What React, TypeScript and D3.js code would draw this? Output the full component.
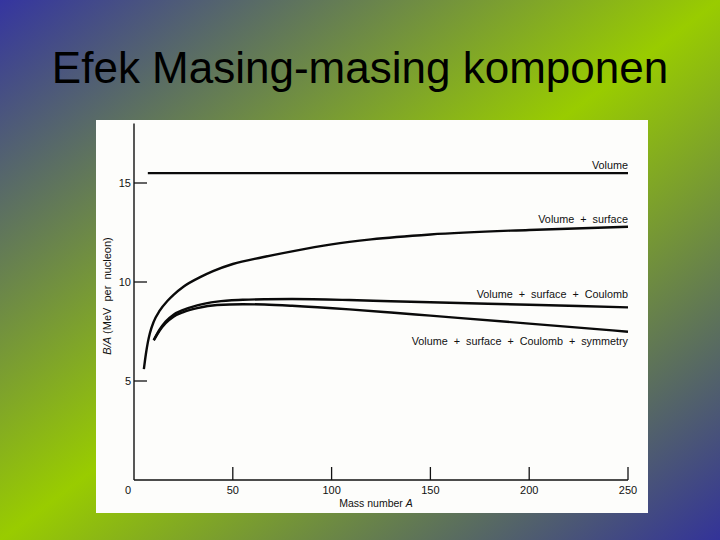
import React from "react";
import * as d3 from "d3";

const titleText = "Efek Masing-masing komponen";

const xTicks = [0, 50, 100, 150, 200, 250];
const yTicks = [5, 10, 15];

const volumeA = [7, 250];
const volumeB = [15.5, 15.5];

const surfaceA = [5, 6, 7, 8, 10, 13, 17, 20, 25, 34, 40, 50, 65, 80, 100, 120, 150, 200, 250];
const surfaceB = [5.6, 6.35, 6.95, 7.4, 8.0, 8.55, 9.05, 9.35, 9.76, 10.27, 10.55, 10.91, 11.25, 11.55, 11.9, 12.15, 12.4, 12.63, 12.79];

const coulombA = [10, 13, 16, 20, 25, 32, 42, 55, 66, 80, 109, 130, 150, 200, 250];
const coulombB = [7.07, 7.6, 8.0, 8.35, 8.59, 8.82, 9.01, 9.1, 9.13, 9.14, 9.09, 9.03, 8.98, 8.85, 8.72];

const symmetryA = [10, 13, 16, 20, 25, 32, 42, 55, 66, 80, 109, 130, 150, 200, 250];
const symmetryB = [7.05, 7.55, 7.92, 8.25, 8.48, 8.68, 8.84, 8.88, 8.86, 8.8, 8.62, 8.46, 8.3, 7.9, 7.49];

const seriesLabels = [
  "Volume",
  "Volume  +  surface",
  "Volume  +  surface  +  Coulomb",
  "Volume  +  surface  +  Coulomb  +  symmetry",
];
const labelDy = [-4, -4, -9, 13];

export default function App() {
  const x = d3.scaleLinear().domain([0, 250]).range([134, 628]);
  const y = d3.scaleLinear().domain([0, 18]).range([480, 123.6]);

  const line = d3
    .line<[number, number]>()
    .x((d) => x(d[0]))
    .y((d) => y(d[1]))
    .curve(d3.curveMonotoneX);

  const series = [
    [volumeA, volumeB],
    [surfaceA, surfaceB],
    [coulombA, coulombB],
    [symmetryA, symmetryB],
  ].map(([a, b]) => a.map((v, i) => [v, b[i]] as [number, number]));

  const font = "'Liberation Sans', Arial, Helvetica, sans-serif";

  return (
    <svg
      width={720}
      height={540}
      style={{ position: "fixed", left: 0, top: 0 }}
      fontFamily={font}
    >
      <defs>
        <linearGradient id="bg" x1="0" y1="0" x2="1" y2="1">
          <stop offset="0" stopColor="#3535a0" />
          <stop offset="0.5" stopColor="#99cc00" />
          <stop offset="1" stopColor="#333399" />
        </linearGradient>
      </defs>
      <rect x={0} y={0} width={720} height={540} fill="url(#bg)" />
      <text x={360} y={83} textAnchor="middle" fontSize={44} fill="#000">
        {titleText}
      </text>
      <rect x={96} y={120} width={552} height={393} fill="#fdfdfb" />

      {/* axes */}
      <line x1={x(0)} x2={x(0)} y1={y(18)} y2={y(0)} stroke="#111" strokeWidth={1.4} />
      <line x1={x(0)} x2={x(250)} y1={y(0)} y2={y(0)} stroke="#111" strokeWidth={1.4} />
      {yTicks.map((t) => (
        <g key={"y" + t}>
          <line x1={x(0)} x2={x(0) + 13} y1={y(t)} y2={y(t)} stroke="#111" strokeWidth={1.3} />
          <text x={x(0) - 3} y={y(t) + 4} textAnchor="end" fontSize={11} fill="#111">
            {t}
          </text>
        </g>
      ))}
      {xTicks.map((t) => (
        <g key={"x" + t}>
          {t > 0 && (
            <line x1={x(t)} x2={x(t)} y1={y(0)} y2={y(0) - 13} stroke="#111" strokeWidth={1.3} />
          )}
          <text
            x={t === 0 ? x(t) - 6 : x(t)}
            y={y(0) + 13.5}
            textAnchor="middle"
            fontSize={11}
            fill="#111"
          >
            {t}
          </text>
        </g>
      ))}
      <text x={376} y={507} textAnchor="middle" fontSize={10.5} fill="#111">
        Mass number <tspan fontStyle="italic">A</tspan>
      </text>
      <text
        transform={`translate(111, 296) rotate(-90)`}
        textAnchor="middle"
        fontSize={11}
        fill="#111"
        style={{ whiteSpace: "pre" }}
      >
        <tspan fontStyle="italic">B/A</tspan> (MeV  per  nucleon)
      </text>

      {/* curves */}
      {series.map((s, i) => (
        <path key={i} d={line(s) || ""} fill="none" stroke="#0a0a0a" strokeWidth={2.4} />
      ))}
      {series.map((s, i) => (
        <text
          key={"l" + i}
          x={x(250)}
          y={y(s[s.length - 1][1]) + labelDy[i]}
          textAnchor="end"
          fontSize={10.8}
          fill="#111"
          style={{ whiteSpace: "pre" }}
        >
          {seriesLabels[i]}
        </text>
      ))}
    </svg>
  );
}
